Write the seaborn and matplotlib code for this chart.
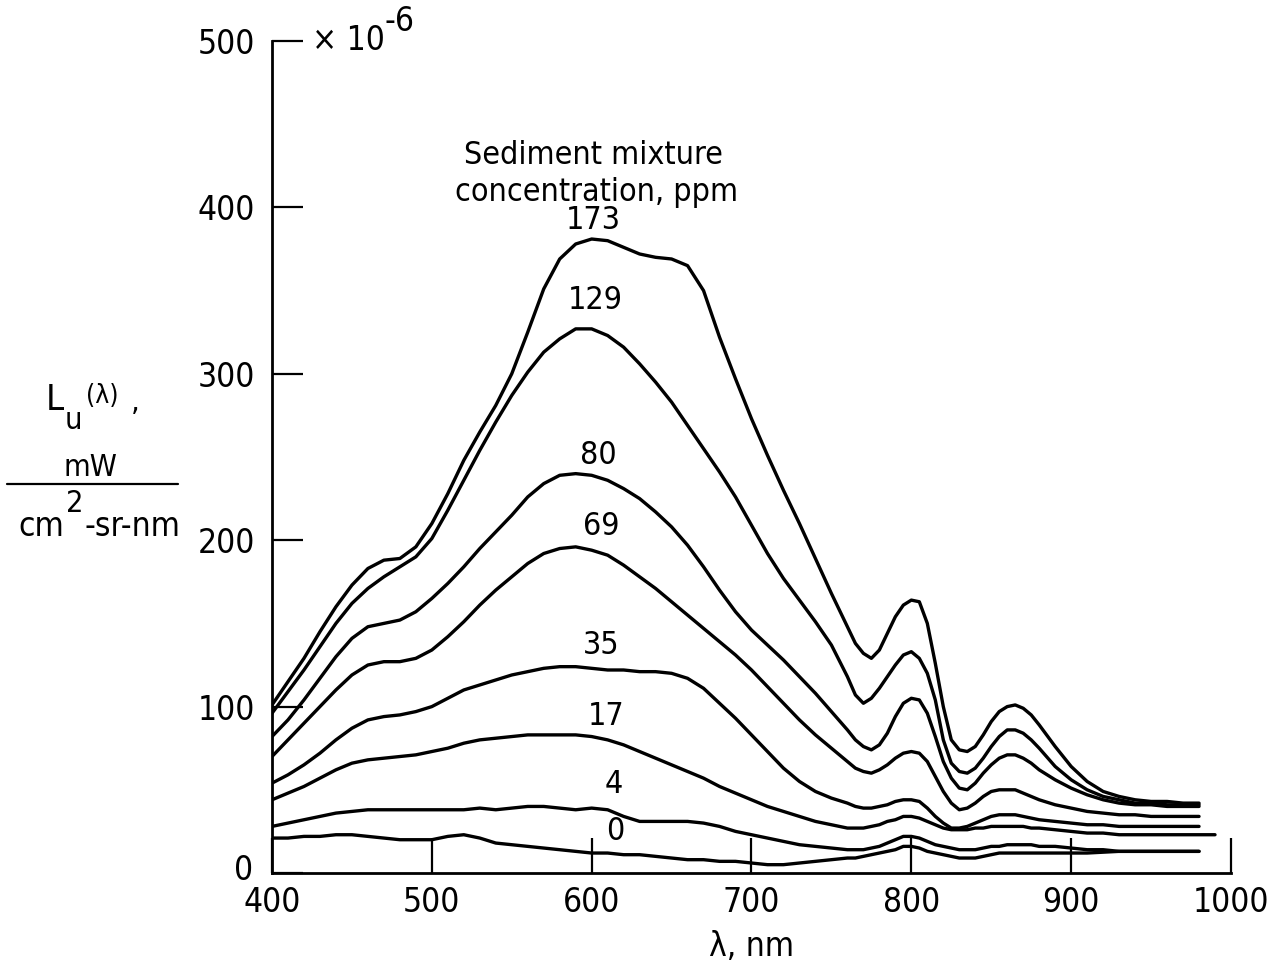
import matplotlib
matplotlib.use("Agg")
import matplotlib.pyplot as plt
import seaborn as sns
import numpy as np
import pandas as pd
from matplotlib import font_manager
from matplotlib.lines import Line2D
from matplotlib.transforms import ScaledTranslation

nan = np.nan

# wavelength grid (nm)
wavelength = ([400, 410, 420, 430, 440, 450, 460, 470, 480, 490, 500, 510, 520, 530, 540, 550,
               560, 570, 580, 590, 600, 610, 620, 630, 640, 650, 660, 670, 680, 690, 700, 710,
               720, 730, 740, 750, 760]
              + [765, 770, 775, 780, 785, 790, 795, 800, 805, 810, 815, 820, 825, 830, 835, 840,
                 845, 850, 855, 860, 865, 870, 875, 880]
              + [890, 900, 910, 920, 930, 940, 950, 960, 970, 980, 990])

# radiance, x 1e-6 mW/(cm^2-sr-nm)
c173 = ([101, 115, 129, 145, 160, 173, 183, 188, 189, 196, 210, 228, 248, 265, 281, 300,
         325, 351, 369, 378, 381, 380, 376, 372, 370, 369, 365, 350, 322, 297, 273, 251,
         230, 210, 189, 168, 148]
        + [138, 132, 129, 134, 144, 154, 161, 164, 163, 150, 126, 100, 80, 74, 73, 76,
           83, 91, 97, 100, 101, 99, 95, 89]
        + [76, 64, 55, 49, 46, 44, 43, 43, 42, 42, nan])
c129 = ([96, 109, 122, 136, 150, 162, 171, 178, 184, 190, 201, 218, 236, 254, 271, 287,
         301, 313, 321, 327, 327, 323, 316, 306, 295, 283, 269, 255, 241, 226, 209, 192,
         177, 164, 151, 137, 118]
        + [107, 102, 105, 111, 118, 125, 131, 133, 129, 120, 104, 80, 66, 61, 60, 63,
           69, 76, 82, 86, 86, 84, 80, 75]
        + [64, 56, 50, 46, 44, 42, 42, 41, 41, 41, nan])
c80 = ([82, 92, 104, 117, 130, 141, 148, 150, 152, 157, 165, 174, 184, 195, 205, 215,
        226, 234, 239, 240, 239, 236, 231, 225, 217, 208, 197, 184, 170, 157, 146, 137,
        128, 118, 108, 97, 86]
       + [80, 76, 74, 77, 84, 94, 102, 105, 104, 96, 82, 67, 57, 51, 50, 54,
          60, 65, 69, 71, 71, 69, 66, 62]
       + [56, 51, 47, 44, 42, 41, 41, 40, 40, 40, nan])
c69 = ([70, 80, 90, 100, 110, 119, 125, 127, 127, 129, 134, 142, 151, 161, 170, 178,
        186, 192, 195, 196, 194, 191, 185, 178, 171, 163, 155, 147, 139, 131, 122, 112,
        102, 92, 83, 75, 67]
       + [63, 61, 60, 62, 65, 69, 72, 73, 72, 67, 58, 49, 42, 38, 39, 42,
          46, 49, 50, 50, 50, 48, 46, 44]
       + [41, 39, 37, 36, 35, 35, 34, 34, 34, 34, nan])
c35 = ([54, 59, 65, 72, 80, 87, 92, 94, 95, 97, 100, 105, 110, 113, 116, 119,
        121, 123, 124, 124, 123, 122, 122, 121, 121, 120, 117, 111, 102, 93, 83, 73,
        63, 55, 49, 45, 42]
       + [40, 39, 39, 40, 41, 43, 44, 44, 43, 39, 34, 30, 27, 27, 28, 30,
          32, 34, 35, 35, 35, 34, 33, 32]
       + [31, 30, 29, 29, 28, 28, 28, 28, 28, 28, nan])
c17 = ([44, 48, 52, 57, 62, 66, 68, 69, 70, 71, 73, 75, 78, 80, 81, 82,
        83, 83, 83, 83, 82, 80, 77, 73, 69, 65, 61, 57, 52, 48, 44, 40,
        37, 34, 31, 29, 27]
       + [27, 27, 28, 29, 31, 32, 34, 34, 33, 31, 29, 27, 26, 26, 26, 27,
          27, 28, 28, 28, 28, 28, 27, 27]
       + [26, 25, 24, 24, 23, 23, 23, 23, 23, 23, 23])
c4 = ([28, 30, 32, 34, 36, 37, 38, 38, 38, 38, 38, 38, 38, 39, 38, 39,
       40, 40, 39, 38, 39, 38, 34, 31, 31, 31, 31, 30, 28, 25, 23, 21,
       19, 17, 16, 15, 14]
      + [14, 14, 15, 16, 18, 20, 22, 22, 21, 19, 17, 16, 15, 14, 14, 14,
         15, 16, 16, 17, 17, 17, 17, 16]
      + [16, 15, 14, 14, 13, 13, 13, 13, 13, 13, nan])
c0 = ([21, 21, 22, 22, 23, 23, 22, 21, 20, 20, 20, 22, 23, 21, 18, 17,
       16, 15, 14, 13, 12, 12, 11, 11, 10, 9, 8, 8, 7, 7, 6, 5,
       5, 6, 7, 8, 9]
      + [9, 10, 11, 12, 13, 14, 16, 16, 15, 13, 12, 11, 10, 9, 9, 9,
         10, 11, 12, 12, 12, 12, 12, 12]
      + [12, 12, 12, 12.5, 13, 13, 13, 13, 13, 13, nan])

concentrations = ["173", "129", "80", "69", "35", "17", "4", "0"]
series = [c173, c129, c80, c69, c35, c17, c4, c0]
# label anchor positions (nm, value)
label_x = [601, 602, 604, 606, 606, 609, 614, 615]
label_y = [392, 344, 251, 208, 137, 94, 53, 25]

x_ticks = [400, 500, 600, 700, 800, 900, 1000]
y_ticks = [0, 100, 200, 300, 400, 500]

sns.set_style("white")
names = {f.name for f in font_manager.fontManager.ttflist}
main_font = "Liberation Sans Narrow" if "Liberation Sans Narrow" in names else "DejaVu Sans"
plt.rcParams["font.family"] = [main_font, "DejaVu Sans"]
if main_font == "DejaVu Sans":
    plt.rcParams["font.stretch"] = "condensed"
for k in ["text.color", "axes.labelcolor", "xtick.color", "ytick.color", "axes.edgecolor"]:
    plt.rcParams[k] = "black"

rows = []
for conc, vals in zip(concentrations, series):
    for w, v in zip(wavelength, vals):
        rows.append({"wavelength": w, "value": v, "conc": conc})
df = pd.DataFrame(rows).dropna()

W, H = 1277, 961
fig = plt.figure(figsize=(W / 100, H / 100), dpi=100)
left, right, bottom, top = 272, 1231, 873, 41
ax = fig.add_axes([left / W, 1 - bottom / H, (right - left) / W, (bottom - top) / H])

sns.lineplot(data=df, x="wavelength", y="value", hue="conc", hue_order=concentrations,
             palette={c: "black" for c in concentrations}, linewidth=2.4,
             legend=False, ax=ax, sort=True, estimator=None,
             solid_joinstyle="round", solid_capstyle="round")

ax.set_xlim(400, 1000)
ax.set_ylim(0, 500)
ax.set_xticks(x_ticks)
ax.set_yticks(y_ticks)
ax.set_xticklabels([str(t) for t in x_ticks])
ax.set_yticklabels([str(t) for t in y_ticks])
for s in ["top", "right"]:
    ax.spines[s].set_visible(False)
for s in ["left", "bottom"]:
    ax.spines[s].set_linewidth(2.0)
    ax.spines[s].set_color("black")
ax.tick_params(axis="x", which="major", bottom=True, top=False, direction="in", length=25,
               width=1.6, labelsize=24, pad=9, colors="black")
ax.tick_params(axis="y", which="major", left=True, right=False, direction="in", length=22,
               width=1.6, labelsize=24, pad=12, colors="black")
ax.set_xlabel("λ, nm", fontsize=24, labelpad=8, color="black")
ax.set_ylabel("")

# raise the "0" y tick label slightly, as in the reference
fig.canvas.draw()
zero_lbl = ax.get_yticklabels()[0]
zero_lbl.set_transform(zero_lbl.get_transform() +
                       ScaledTranslation(-2 / 100, 6 / 100, fig.dpi_scale_trans))

for conc, lx, ly in zip(concentrations, label_x, label_y):
    ax.text(lx, ly, conc, ha="center", va="center", fontsize=23)

ax.text(601, 431, "Sediment mixture", ha="center", va="center", fontsize=23)
ax.text(603, 409, "concentration, ppm", ha="center", va="center", fontsize=23)

# multiplier
ax.text((312 - left) / (right - left), 1.0, "× 10", transform=ax.transAxes,
        ha="left", va="center", fontsize=24)
ax.text((385 - left) / (right - left), (bottom - 22) / (bottom - top), "-6",
        transform=ax.transAxes, ha="left", va="center", fontsize=24)

# y label as stacked fraction
def ft(px, py, s, size, ha="center"):
    fig.text(px / W, 1 - py / H, s, ha=ha, va="center", fontsize=size, color="black")

ft(55, 400, "L", 26)
ft(73, 420, "u", 22)
ft(102, 396, "(λ)", 19)
ft(135, 402, ",", 22)
ft(90, 467, "mW", 22)
fig.add_artist(Line2D([7 / W, 178 / W], [1 - 484 / H, 1 - 484 / H],
                      transform=fig.transFigure, color="black", linewidth=1.6))
ft(41, 527, "cm", 24)
ft(75, 503, "2", 22)
ft(132, 527, "-sr-nm", 24)

fig.savefig("out.png", dpi=100)
